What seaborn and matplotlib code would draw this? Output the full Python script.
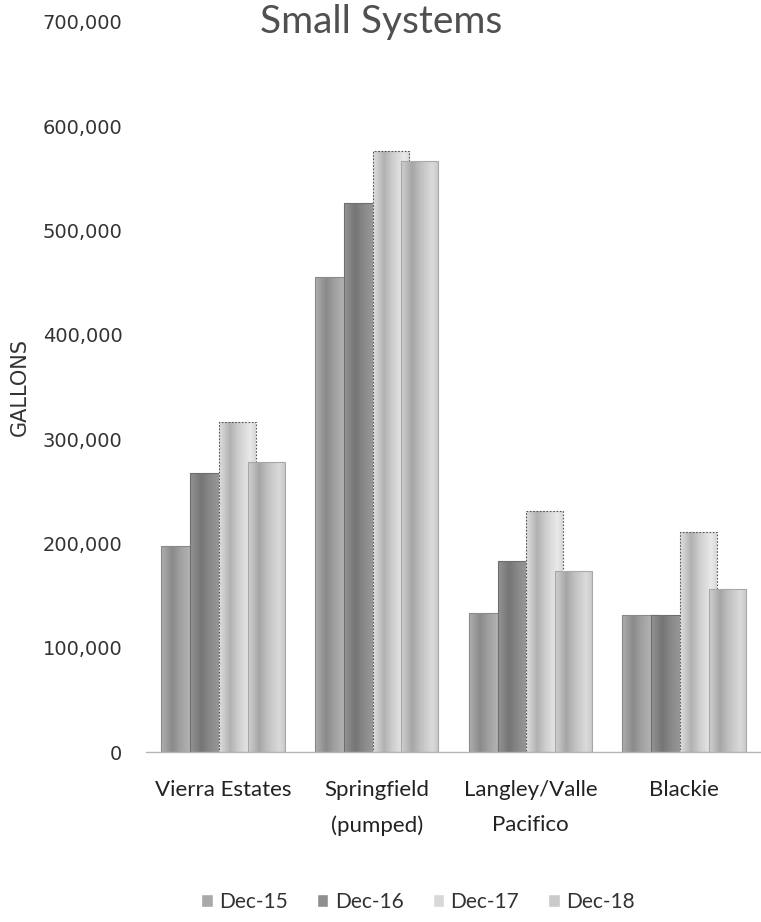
"""
Small Systems water production chart (Dec-15 .. Dec-18), grey Excel style.
"""

import matplotlib
matplotlib.use("Agg")
import matplotlib.pyplot as plt
import numpy as np
import pandas as pd
import seaborn as sns
from matplotlib.ticker import FuncFormatter

# values
systems = ["Vierra Estates", "Springfield\n(pumped)", "Langley/Valle\nPacifico", "Blackie"]
periods = ["Dec-15", "Dec-16", "Dec-17", "Dec-18"]
dec15 = [198000, 455000, 133000, 131000]
dec16 = [268000, 526000, 183000, 131000]
dec17 = [316000, 576000, 231000, 211000]
dec18 = [278000, 567000, 174000, 156000]
y_ticks = [0, 100000, 200000, 300000, 400000, 500000, 600000, 700000]

grays = ["#a9a9a9", "#8f8f8f", "#d8d8d8", "#cacaca"]

df = pd.DataFrame({
    "system": systems * 4,
    "period": np.repeat(periods, len(systems)),
    "gallons": dec15 + dec16 + dec17 + dec18,
})

sns.set_theme(style="white")
plt.rcParams["font.family"] = ["Lato", "DejaVu Sans"]

fig = plt.figure(figsize=(7.61, 9.22), dpi=100)
ax = fig.add_axes([146 / 761, 170 / 922, 615 / 761, 730 / 922])

sns.barplot(data=df, x="system", y="gallons", hue="period", hue_order=periods,
            palette=grays, saturation=1, width=0.75, ax=ax)

# Excel-like overlapping bars with a cylinder-ish shading
prof_x = np.linspace(0, 1, 60)
shade = np.interp(prof_x, [0, 0.3, 0.55, 0.85, 1], [1.03, 0.82, 0.96, 1.08, 1.0])
edge_cols = ["#8a8a8a", "#6e6e6e", "#555555", "#a8a8a8"]
for i, container in enumerate(ax.containers):
    base = matplotlib.colors.to_rgb(grays[i])[0]
    for bar in container:
        w = bar.get_width()
        c = bar.get_x() + w / 2
        nw = w * 1.28
        bar.set_x(c - nw / 2)
        bar.set_width(nw)
        h = bar.get_height()
        img = ax.imshow(np.clip(base * shade, 0, 1)[None, :], cmap="gray", vmin=0, vmax=1,
                        extent=[c - nw / 2, c + nw / 2, 0, h], aspect="auto",
                        interpolation="bilinear", zorder=2 + i * 0.1)
        img.set_clip_path(bar)
        bar.set_facecolor("none")
        bar.set_edgecolor(edge_cols[i])
        bar.set_linewidth(0.8)
        if i == 2:
            bar.set_linestyle((0, (1.5, 1.5)))
        bar.set_zorder(2 + i * 0.1 + 0.05)

ax.set_xlim(-0.5, 3.5)
ax.set_ylim(0, 700000)
ax.set_yticks(y_ticks)
ax.yaxis.set_major_formatter(FuncFormatter(lambda v, _: f"{v:,.0f}"))
ax.tick_params(axis="y", length=0, pad=17, labelsize=14, labelcolor="#333333")
for lab in ax.get_yticklabels():
    lab.set_fontfamily("DejaVu Sans")
ax.tick_params(axis="x", length=0, pad=20, labelsize=16, labelcolor="#222222")
for lab in ax.get_xticklabels():
    lab.set_linespacing(1.95)
ax.set_xlabel("")
ax.set_ylabel("")

sns.despine(ax=ax, left=True)
ax.spines["bottom"].set_color("#b5b5b5")
ax.spines["bottom"].set_linestyle((0, (1, 1)))
ax.spines["bottom"].set_linewidth(1)

fig.text(20 / 761, 1 - 387 / 922, "GALLONS", rotation=90, ha="center", va="center",
         fontsize=15, color="#333333", family=["Liberation Sans Narrow", "DejaVu Sans"])
fig.text(381 / 761, 1 - 33 / 922, "Small Systems", ha="center", va="baseline",
         fontsize=28, fontweight="normal", color="#505050")

handles, labels = ax.get_legend_handles_labels()
ax.get_legend().remove()
fig.legend(handles, labels, loc="center", bbox_to_anchor=(418 / 761, 1 - 902 / 922),
           ncol=4, frameon=False, fontsize=15, handlelength=0.55, handleheight=0.55,
           handletextpad=0.3, columnspacing=1.4, labelcolor="#333333")

fig.savefig("out.png", dpi=100)
